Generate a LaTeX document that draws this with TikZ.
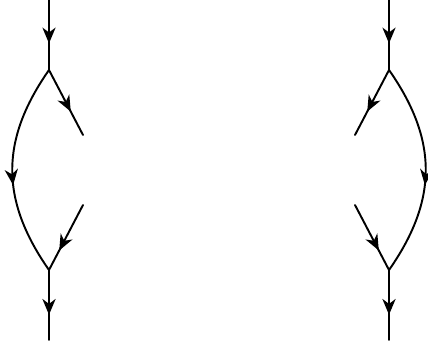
\documentclass[tikz,border=0pt]{standalone}
\usetikzlibrary{arrows.meta,decorations.markings}

\tikzset{
	midarrow/.style={postaction={decorate},decoration={markings,
		mark=at position #1 with {\arrow{Stealth[length=9pt,width=7.5pt,inset=2.8pt]}}}},
	midarrow/.default=0.6,
	leg/.style={line width=1.1pt}
}

\begin{document}
\begin{tikzpicture}[line cap=round,line join=round,x=0.02cm,y=0.02cm]
	\useasboundingbox (0,0) rectangle (428,347);
	% left vertex pair
	\coordinate (ltop) at (49,347);
	\coordinate (lup) at (49,277);
	\coordinate (llow) at (49,77);
	\coordinate (lbot) at (49,7);
	\coordinate (lend1) at (83,212);
	\coordinate (lend2) at (83,142);
	% right vertex pair
	\coordinate (rtop) at (389,347);
	\coordinate (rup) at (389,277);
	\coordinate (rlow) at (389,77);
	\coordinate (rbot) at (389,7);
	\coordinate (rend1) at (355,212);
	\coordinate (rend2) at (355,142);

	\draw [leg,midarrow=0.62] (ltop)-- (lup);
	\draw [leg,midarrow=0.64] (lup)-- (lend1);
	\draw [leg,midarrow=0.57] (lup) .. controls (0,207) and (0,147) .. (llow);
	\draw [leg,midarrow=0.7] (lend2)-- (llow);
	\draw [leg,midarrow=0.64] (llow)-- (lbot);

	\draw [leg,midarrow=0.62] (rtop)-- (rup);
	\draw [leg,midarrow=0.64] (rup)-- (rend1);
	\draw [leg,midarrow=0.57] (rup) .. controls (438,207) and (438,147) .. (rlow);
	\draw [leg,midarrow=0.7] (rend2)-- (rlow);
	\draw [leg,midarrow=0.64] (rlow)-- (rbot);
\end{tikzpicture}
\end{document}
